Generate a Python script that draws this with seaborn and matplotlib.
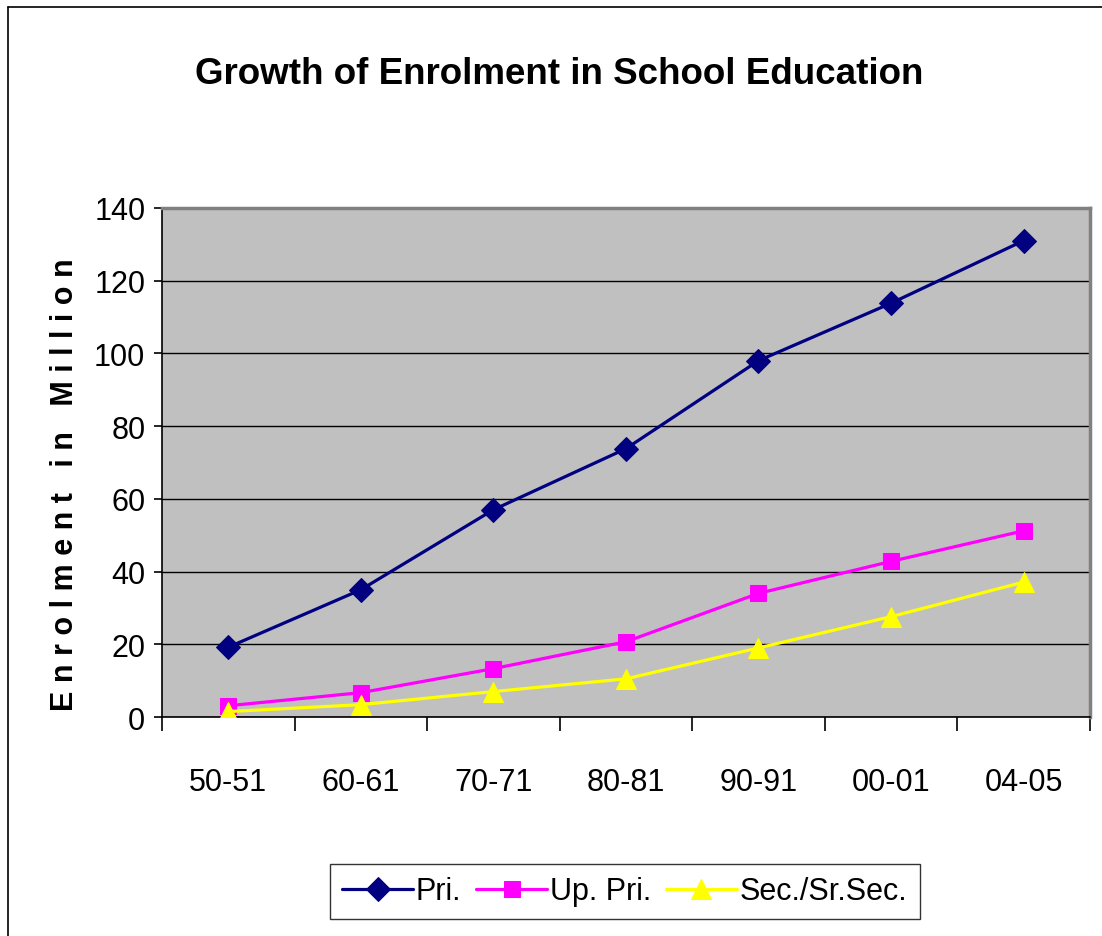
import numpy as np
import pandas as pd
import matplotlib
matplotlib.use("Agg")
import matplotlib.pyplot as plt
from matplotlib.lines import Line2D
import seaborn as sns

# Data
years = ["50-51", "60-61", "70-71", "80-81", "90-91", "00-01", "04-05"]
primary = [19.2, 35.0, 57.0, 73.8, 98.0, 113.8, 131.0]
upper_primary = [3.1, 6.7, 13.3, 20.7, 34.0, 42.8, 51.2]
secondary = [1.5, 3.4, 7.0, 10.5, 19.0, 27.6, 37.1]

df = pd.DataFrame({
    "pos": np.arange(len(years)),
    "Pri.": primary,
    "Up. Pri.": upper_primary,
    "Sec./Sr.Sec.": secondary,
})

sns.set_style("white")
plt.rcParams["font.family"] = ["Liberation Sans", "DejaVu Sans"]
plt.rcParams["text.color"] = "black"
plt.rcParams["xtick.color"] = "black"
plt.rcParams["ytick.color"] = "black"
plt.rcParams["axes.labelcolor"] = "black"

fig = plt.figure(figsize=(11.02, 9.37), dpi=100)
ax = fig.add_axes([0.147, 0.2337, 0.842, 0.5433])
ax.set_facecolor("#C0C0C0")

styles = [
    ("Pri.", "#000080", "D", 12),
    ("Up. Pri.", "#FF00FF", "s", 11),
    ("Sec./Sr.Sec.", "#FFFF00", "^", 14),
]
for col, color, marker, ms in styles:
    sns.lineplot(data=df, x="pos", y=col, ax=ax, color=color, marker=marker,
                 markersize=ms, markeredgecolor=color, linewidth=2.3,
                 label=col, legend=False, zorder=3)

ax.set_xlim(-0.5, len(years) - 0.5)
ax.set_ylim(0, 140)
ax.set_yticks(np.arange(0, 141, 20))
ax.yaxis.grid(True, color="black", linewidth=1)
ax.xaxis.grid(False)
ax.set_axisbelow(True)

# major ticks at category boundaries, labels at centres
ax.set_xticks(np.arange(-0.5, len(years), 1.0))
ax.set_xticklabels([])
ax.set_xticks(np.arange(len(years)), minor=True)
ax.set_xticklabels(years, minor=True)
ax.tick_params(axis="x", which="major", direction="out", length=10, width=1.2, color="black", bottom=True)
ax.tick_params(axis="x", which="minor", length=0, pad=36, labelsize=22)
ax.tick_params(axis="y", direction="out", length=6, width=1.2, color="black", left=True,
               labelsize=22, pad=6)

for side in ["left", "bottom"]:
    ax.spines[side].set_color("black")
    ax.spines[side].set_linewidth(1.2)
for side in ["top", "right"]:
    ax.spines[side].set_color("#808080")
    ax.spines[side].set_linewidth(2.5)

ax.set_xlabel("")
ax.set_ylabel("E n r o l m e n t   i n   M i l l i o n", fontsize=22, fontweight="bold")
ax.yaxis.set_label_coords(-0.088, 0.458)

fig.text(0.507, 0.92, "Growth of Enrolment in School Education", ha="center", va="center",
         fontsize=26.5, fontweight="bold")

handles, labels = ax.get_legend_handles_labels()
leg = fig.legend(handles, labels, loc="center", bbox_to_anchor=(0.567, 0.0475), ncol=3,
                 fontsize=22, frameon=True, fancybox=False, edgecolor="black",
                 handlelength=2.3, handletextpad=0.1, columnspacing=0.5, borderpad=0.4)
leg.get_frame().set_linewidth(1.0)

# outer chart border (left and top visible in crop)
fig.add_artist(Line2D([8 / 1102, 8 / 1102], [0, 1 - 8 / 937], color="black", linewidth=1.2,
                      transform=fig.transFigure))
fig.add_artist(Line2D([8 / 1102, 1], [1 - 8 / 937, 1 - 8 / 937], color="black", linewidth=1.2,
                      transform=fig.transFigure))

fig.savefig("out.png", dpi=100)
